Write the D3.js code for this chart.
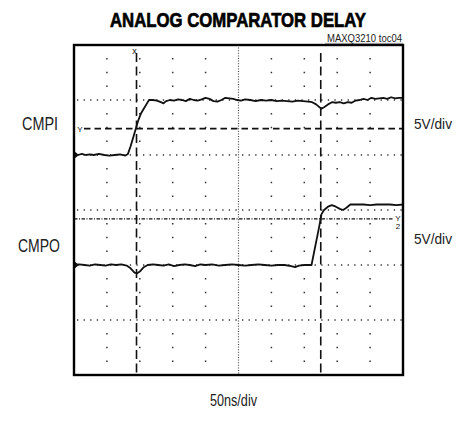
<!DOCTYPE html>
<html>
<head>
<meta charset="utf-8">
<script src="https://cdn.jsdelivr.net/npm/d3@7"></script>
<style>
  html, body { margin: 0; padding: 0; background: #fff; }
  svg { display: block; }
  .lbl { font-family: "Liberation Sans", Arial, sans-serif; fill: #222; }
</style>
</head>
<body>
<svg id="chart" width="458" height="423"></svg>
<script>
// ---- data ----
const title = "ANALOG COMPARATOR DELAY";
const figId = "MAXQ3210 toc04";
const timeLabel = "50ns/div";
const channelNames = ["CMPI", "CMPO"];
const channelScales = ["5V/div", "5V/div"];
const nsPerDiv = 50, xDivs = 10, yDivs = 6, voltsPerDiv = 5;
const channelOffsetDiv = [4, 2];           // ground position of each channel, in divisions from bottom
const timeCursors = [95, 375];             // ns
const cmpiCursorV = 2.4, cmpoCursorV = 4.2; // volts on each channel

// CMPI trace [time ns, volts]
const cmpiT = [0, 6, 12, 18, 24, 30, 38, 46, 54, 62, 70, 78, 82, 86, 90, 94, 98, 102, 106, 110, 114, 120, 126, 132, 136, 140, 146, 152, 158, 164, 170, 176, 182, 188, 194, 200, 206, 212, 218, 224, 230, 236, 242, 248, 254, 260, 268, 276, 284, 292, 300, 308, 316, 324, 332, 340, 348, 356, 362, 368, 372, 376, 380, 386, 392, 398, 404, 410, 416, 422, 428, 434, 440, 446, 452, 458, 464, 470, 476, 482, 488, 494, 500];
const cmpiV = [0.1, 0.0, 0.1, 0.0, 0.05, 0.0, 0.1, 0.0, -0.05, 0.0, 0.05, -0.05, 0.1, 0.8, 1.6, 2.4, 3.2, 3.8, 4.2, 4.6, 5.0, 5.0, 4.95, 4.8, 4.7, 4.9, 5.0, 4.95, 5.05, 5.0, 4.9, 5.1, 5.0, 4.95, 5.05, 5.2, 5.1, 4.9, 4.85, 5.0, 5.2, 5.15, 5.1, 5.0, 4.95, 5.05, 5.0, 4.9, 5.0, 4.95, 5.0, 4.9, 4.95, 4.9, 4.85, 4.95, 4.9, 4.85, 4.8, 4.6, 4.4, 4.2, 4.35, 4.6, 4.8, 4.75, 4.8, 4.7, 4.8, 4.75, 4.95, 5.0, 5.1, 5.0, 5.2, 5.1, 5.15, 5.2, 5.1, 5.25, 5.15, 5.2, 5.2];

// CMPO trace [time ns, volts]
const cmpoT = [0, 8, 16, 24, 32, 40, 48, 56, 64, 72, 80, 86, 92, 96, 100, 106, 112, 120, 128, 136, 144, 152, 160, 168, 176, 184, 192, 200, 210, 220, 230, 240, 250, 260, 270, 280, 290, 300, 310, 320, 330, 336, 342, 350, 356, 361, 365, 369, 373, 376, 380, 386, 392, 398, 404, 409, 414, 420, 430, 440, 450, 460, 470, 480, 490, 500];
const cmpoV = [0.0, 0.05, 0.0, -0.05, 0.05, 0.0, -0.05, 0.05, 0.0, 0.05, -0.05, -0.3, -0.7, -0.75, -0.6, -0.2, 0.0, 0.05, 0.0, -0.05, 0.05, -0.1, 0.0, 0.05, 0.0, -0.1, 0.05, 0.0, 0.05, -0.05, 0.0, 0.05, 0.0, -0.05, 0.0, 0.05, 0.0, -0.05, 0.0, 0.0, -0.1, -0.2, -0.05, 0.0, 0.0, 0.0, 1.2, 2.4, 3.6, 4.6, 5.0, 5.3, 5.45, 5.3, 5.1, 5.0, 5.2, 5.5, 5.5, 5.5, 5.45, 5.5, 5.5, 5.5, 5.45, 5.5];

// ---- drawing ----
const svg = d3.select("#chart");
const frame = {left: 74, right: 403, top: 45, bottom: 375};
const x = d3.scaleLinear().domain([0, xDivs * nsPerDiv]).range([frame.left, frame.right]);
const y = d3.scaleLinear().domain([0, yDivs]).range([frame.bottom, frame.top]);
const yc = (ch, v) => y(channelOffsetDiv[ch] + v / voltsPerDiv);

// Title
svg.append("text").attr("class", "lbl")
  .attr("x", 238).attr("y", 27).attr("text-anchor", "middle")
  .attr("font-size", 21).attr("font-weight", "bold").style("fill", "#000")
  .attr("stroke", "#000").attr("stroke-width", 0.7)
  .attr("textLength", 256).attr("lengthAdjust", "spacingAndGlyphs")
  .text(title);
svg.append("text").attr("class", "lbl")
  .attr("x", 327).attr("y", 41.5)
  .attr("font-size", 10.5).attr("textLength", 75).attr("lengthAdjust", "spacingAndGlyphs").text(figId);
svg.append("line").attr("x1", 325).attr("x2", frame.right).attr("y1", 43.3).attr("y2", 43.3)
  .attr("stroke", "#666").attr("stroke-width", 0.6);

const g = svg.append("g");

// minor dot columns on each major time division
const minorY = d3.range(0, yDivs * 4 + 1).map(i => i / 4);
for (let i = 1; i < xDivs; i++) {
  if (i === xDivs / 2) continue;
  minorY.forEach(d => {
    if (d % 1 === 0) return;
    g.append("rect").attr("x", x(i * nsPerDiv) - 0.75).attr("y", y(d) - 0.75)
      .attr("width", 1.5).attr("height", 1.5).attr("fill", "#333");
  });
}
// horizontal dotted major lines
for (let j = 1; j < yDivs; j++) {
  g.append("line").attr("x1", frame.left + 3).attr("x2", frame.right)
    .attr("y1", y(j)).attr("y2", y(j))
    .attr("stroke", "#333").attr("stroke-width", 1.3).attr("stroke-dasharray", "1.3,5.3");
}
// center vertical dotted line
g.append("line").attr("x1", x(xDivs / 2 * nsPerDiv)).attr("x2", x(xDivs / 2 * nsPerDiv))
  .attr("y1", frame.top).attr("y2", frame.bottom)
  .attr("stroke", "#444").attr("stroke-width", 1.2).attr("stroke-dasharray", "1,1.6");

// time cursors (dashed vertical)
timeCursors.forEach(t => {
  g.append("line").attr("x1", x(t)).attr("x2", x(t)).attr("y1", frame.top + 8).attr("y2", frame.bottom)
    .attr("stroke", "#111").attr("stroke-width", 1.6).attr("stroke-dasharray", "9,4.5");
});
// voltage cursors
g.append("line").attr("x1", frame.left + 10).attr("x2", frame.right)
  .attr("y1", yc(0, cmpiCursorV)).attr("y2", yc(0, cmpiCursorV))
  .attr("stroke", "#111").attr("stroke-width", 1.6).attr("stroke-dasharray", "6.5,4");
g.append("line").attr("x1", frame.left).attr("x2", frame.right - 10)
  .attr("y1", yc(1, cmpoCursorV)).attr("y2", yc(1, cmpoCursorV))
  .attr("stroke", "#111").attr("stroke-width", 1.3).attr("stroke-dasharray", "3.5,1.5,1,1.5");

// traces
const line = ch => d3.line().x(d => x(d[0])).y(d => yc(ch, d[1])).curve(d3.curveLinear);
const cmpi = cmpiT.map((t, i) => [t, cmpiV[i]]);
const cmpo = cmpoT.map((t, i) => [t, cmpoV[i]]);
g.append("path").datum(cmpi).attr("d", line(0)).attr("fill", "none")
  .attr("stroke", "#111").attr("stroke-width", 1.8).attr("stroke-linejoin", "round");
g.append("path").datum(cmpo).attr("d", line(1)).attr("fill", "none")
  .attr("stroke", "#111").attr("stroke-width", 1.8).attr("stroke-linejoin", "round");

// ground markers at left edge
[0, 1].forEach(ch => {
  const gy = yc(ch, 0);
  g.append("path").attr("d", `M${frame.left},${gy - 4} L${frame.left + 5},${gy} L${frame.left},${gy + 4} Z`)
    .attr("fill", "#111");
});
// small cursor markers
svg.append("text").attr("class", "lbl").attr("x", x(timeCursors[0]) - 2).attr("y", frame.top + 9)
  .attr("font-size", 9).attr("text-anchor", "middle").style("fill", "#111").text("x");
svg.append("text").attr("class", "lbl").attr("x", frame.left + 6).attr("y", yc(0, cmpiCursorV) + 3)
  .attr("font-size", 8).attr("text-anchor", "middle").style("fill", "#111").text("Y");
svg.append("text").attr("class", "lbl").attr("x", frame.right - 5).attr("y", yc(1, cmpoCursorV) + 2)
  .attr("font-size", 8).attr("text-anchor", "middle").style("fill", "#111").text("Y");
svg.append("text").attr("class", "lbl").attr("x", frame.right - 5).attr("y", yc(1, cmpoCursorV) + 10)
  .attr("font-size", 8).attr("text-anchor", "middle").style("fill", "#111").text("2");

// frame
svg.append("rect").attr("x", frame.left).attr("y", frame.top)
  .attr("width", frame.right - frame.left).attr("height", frame.bottom - frame.top)
  .attr("fill", "none").attr("stroke", "#000").attr("stroke-width", 2.4);

// labels
const nameX = [22, 18], nameW = [36, 42], nameBase = [129.5, 251.5];
channelNames.forEach((n, i) => {
  svg.append("text").attr("class", "lbl").attr("x", nameX[i]).attr("y", nameBase[i])
    .attr("font-size", 18).attr("textLength", nameW[i]).attr("lengthAdjust", "spacingAndGlyphs").text(n);
});
const scBase = [129, 243.5];
channelScales.forEach((n, i) => {
  svg.append("text").attr("class", "lbl").attr("x", 414).attr("y", scBase[i])
    .attr("font-size", 15.5).attr("textLength", 38).attr("lengthAdjust", "spacingAndGlyphs").text(n);
});
svg.append("text").attr("class", "lbl").attr("x", 210).attr("y", 406)
  .attr("font-size", 16).attr("textLength", 47).attr("lengthAdjust", "spacingAndGlyphs").text(timeLabel);
</script>
</body>
</html>
